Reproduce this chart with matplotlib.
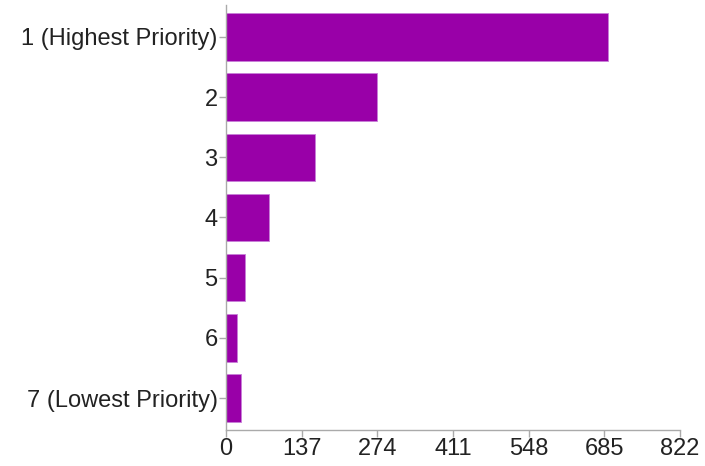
import matplotlib
matplotlib.use("Agg")
import matplotlib.pyplot as plt

categories = ["1 (Highest Priority)", "2", "3", "4", "5", "6", "7 (Lowest Priority)"]
counts = [692, 274, 161, 78, 34, 20, 27]
xticks = [0, 137, 274, 411, 548, 685, 822]

plt.rcParams["font.family"] = ["Liberation Sans", "DejaVu Sans"]

fig = plt.figure(figsize=(7.05, 4.66), dpi=100)
ax = fig.add_axes([226 / 705, 36 / 466, 454 / 705, 425 / 466])

y = list(range(len(categories)))
ax.barh(y, counts, height=0.79, color="#9900a8", edgecolor="#c880d8", linewidth=0.6)
ax.set_yticks(y)
ax.set_yticklabels(categories)
ax.set_ylim(len(categories) - 0.47, -0.53)
ax.set_xlim(0, 822)
ax.set_xticks(xticks)
ax.set_xticklabels([str(t) for t in xticks])

for s in ["top", "right"]:
    ax.spines[s].set_visible(False)
for s in ["left", "bottom"]:
    ax.spines[s].set_color("#aaaaaa")
    ax.spines[s].set_linewidth(1.0)
ax.tick_params(axis="both", colors="#aaaaaa", labelcolor="#222222", labelsize=17, length=5, width=1)
ax.tick_params(axis="x", pad=1)
ax.tick_params(axis="y", pad=1)

fig.savefig("out.png", dpi=100)
